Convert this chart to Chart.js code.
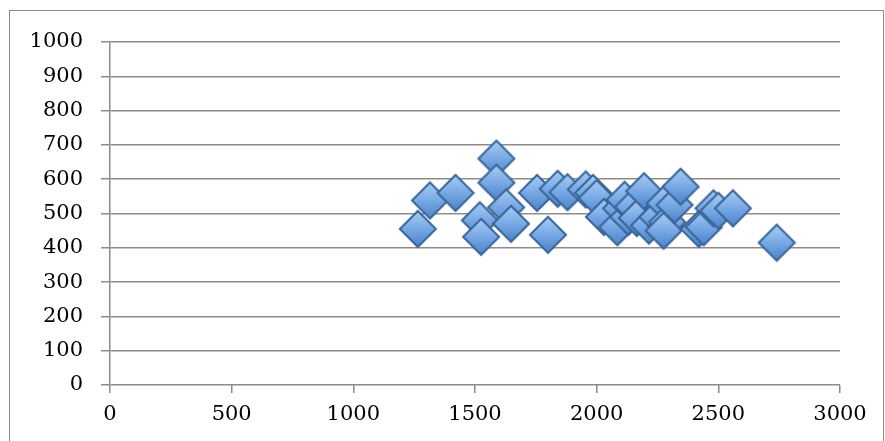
<!DOCTYPE html>
<html>
<head>
<meta charset="utf-8">
<script src="https://cdn.jsdelivr.net/npm/chart.js@4"></script>
<style>
  body { margin:0; background:#fff; }
  #wrap { position:relative; width:885px; height:441px; overflow:hidden; }
  #frame { position:absolute; left:9px; top:10px; width:873px; height:440px; border:1px solid #8a8a8a; }
  #rendcont { position:absolute; left:0; top:0; }
</style>
</head>
<body>
<div id="wrap">
  <div id="frame"></div>
  <canvas id="rendcont" width="885" height="441"></canvas>
</div>
<script>
// values
let xVals = [1265, 1315, 1420, 1588, 1588, 1520, 1525, 1628, 1648, 1755,
             1800, 1840, 1880, 1955, 1985, 2000, 2030, 2085, 2100, 2130,
             2115, 2150, 2165, 2195, 2215, 2250, 2285, 2280, 2290, 2275,
             2320, 2345, 2420, 2440, 2480, 2500, 2560, 2740];
let yVals = [455, 538, 560, 660, 590, 480, 432, 518, 470, 560,
             438, 572, 562, 570, 560, 545, 490, 460, 515, 490,
             540, 520, 487, 565, 465, 490, 460, 530, 475, 450,
             525, 578, 455, 460, 515, 508, 515, 415];
let xTicks = [0, 500, 1000, 1500, 2000, 2500, 3000];
let yTicks = [0, 100, 200, 300, 400, 500, 600, 700, 800, 900, 1000];

let ctx = document.getElementById("rendcont");
let cont = ctx.getContext("2d");
Chart.defaults.font.family = "DejaVu Serif";
Chart.defaults.font.size = 21;
Chart.defaults.color = "#000";

// diamond marker, drawn once and used as point style
function makeDiamond(){
    let c = document.createElement("canvas");
    c.width = 40; c.height = 40;
    let g = c.getContext("2d");
    g.beginPath();
    g.moveTo(20, 2); g.lineTo(38, 20); g.lineTo(20, 38); g.lineTo(2, 20);
    g.closePath();
    let grad = g.createLinearGradient(0, 2, 0, 38);
    grad.addColorStop(0, "#a9cdf4");
    grad.addColorStop(0.5, "#78a9e6");
    grad.addColorStop(1, "#4d82c8");
    g.fillStyle = grad;
    g.fill();
    g.lineWidth = 2;
    g.strokeStyle = "#3a6599";
    g.stroke();
    return c;
}
let diamond = makeDiamond();

let pts = xVals.map((x, i) => ({x: x, y: yVals[i]}));
let gridCol = "#8c8c8c";

let cht = new Chart(cont, {
    type: 'scatter',
    data: {
        datasets: [{
            data: pts,
            pointStyle: diamond,
            pointRadius: 20,
            pointHoverRadius: 20
        }]
    },
    options: {
        responsive: false,
        animation: false,
        layout: { padding: { left: 0, right: 45, top: 42, bottom: 0 } },
        plugins: { legend: { display: false }, tooltip: { enabled: false } },
        scales: {
            x: {
                type: 'linear', min: 0, max: 3000,
                afterBuildTicks: (s) => { s.ticks = xTicks.map(v => ({value: v})); },
                afterFit: (s) => { s.height = 56; },
                grid: { drawOnChartArea: false, drawTicks: true, tickLength: 8, color: gridCol, lineWidth: 1.5 },
                border: { display: false },
                ticks: { padding: 9, maxRotation: 0, callback: (v) => String(v) }
            },
            y: {
                type: 'linear', min: 0, max: 1000,
                afterBuildTicks: (s) => { s.ticks = yTicks.map(v => ({value: v})); },
                afterFit: (s) => { s.width = 110; },
                grid: { color: gridCol, lineWidth: 1.5, tickLength: 9 },
                border: { color: gridCol, width: 1.5 },
                ticks: { padding: 18, callback: (v) => String(v) }
            }
        }
    }
});
</script>
</body>
</html>
